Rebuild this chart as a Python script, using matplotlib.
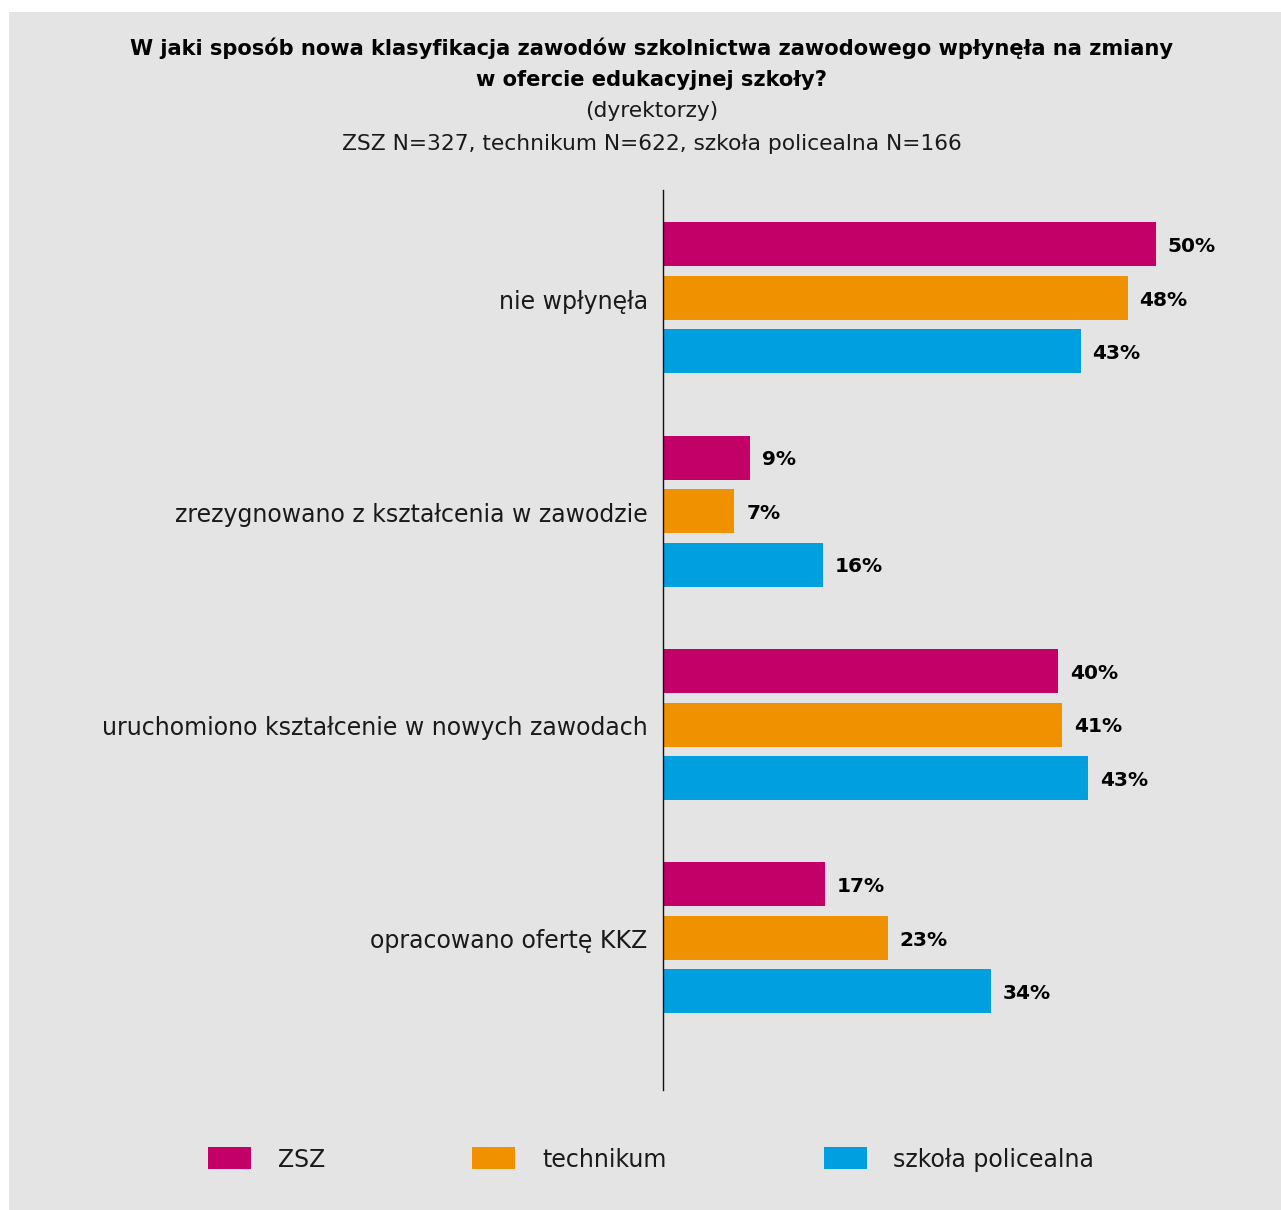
import matplotlib.pyplot as plt
from matplotlib.patches import Rectangle

W, H = 1281, 1210

CATEGORIES = ['nie wpłynęła',
              'zrezygnowano z kształcenia w zawodzie',
              'uruchomiono kształcenie w nowych zawodach',
              'opracowano ofertę KKZ']

SERIES = ['ZSZ', 'technikum', 'szkoła policealna']

# bar lengths, labels as printed
VALUES = {
    'ZSZ':               [50.4, 8.9, 40.4, 16.6],
    'technikum':         [47.5, 7.3, 40.8, 23.0],
    'szkoła policealna': [42.7, 16.4, 43.5, 33.5],
}
LABELS = {
    'ZSZ':               ['50%', '9%', '40%', '17%'],
    'technikum':         ['48%', '7%', '41%', '23%'],
    'szkoła policealna': ['43%', '16%', '43%', '34%'],
}

COLORS = {
    'ZSZ':               '#c20067',
    'technikum':         '#f09200',
    'szkoła policealna': '#009fe0',
}

BG = '#e3e4e3'
FONT = 'DejaVu Sans'


def fx(px):
    return px / W


def fy(py):
    return 1 - py / H


fig = plt.figure(figsize=(W / 100, H / 100), dpi=100)
fig.patch.set_facecolor('white')
fig.add_artist(Rectangle((fx(9), 0), 1 - fx(9), fy(12), transform=fig.transFigure,
                         facecolor=BG, edgecolor='none', zorder=0))

# axes: left edge at x=663, from y=190 to y=1090, 9.78 px per percent
left, right = 663, 663 + 60 * 9.78
ax = fig.add_axes([fx(left), fy(1090), fx(right - left), (1090 - 190) / H])
ax.set_facecolor('none')
ax.set_xlim(0, 60)
ax.set_ylim(3.713, -0.506)

bar_h = 44 / 213.3
offs = [-53.5 / 213.3, 0, 53.5 / 213.3]
for i, s in enumerate(SERIES):
    ys = [k + offs[i] for k in range(len(CATEGORIES))]
    ax.barh(ys, VALUES[s], height=bar_h, color=COLORS[s], zorder=2)
    for y, v, lab in zip(ys, VALUES[s], LABELS[s]):
        ax.text(v + 1.2, y + 0.01, lab, ha='left', va='center', fontsize=14.5,
                fontweight='bold', family=FONT, color='#000000')

ax.set_yticks([k + 0.005 for k in range(len(CATEGORIES))])
ax.set_yticklabels(CATEGORIES, fontsize=17, family=FONT, color='#1a1a1a')
ax.tick_params(axis='y', length=0, pad=11)
ax.set_xticks([])
for sp in ['top', 'right', 'bottom']:
    ax.spines[sp].set_visible(False)
ax.spines['left'].set_linewidth(1.0)
ax.spines['left'].set_color('#111111')

# titles
fig.text(fx(652), fy(48), 'W jaki sposób nowa klasyfikacja zawodów szkolnictwa zawodowego wpłynęła na zmiany',
         ha='center', va='center', fontsize=15.1, fontweight='bold', family=FONT, color='#000000')
fig.text(fx(652), fy(80), 'w ofercie edukacyjnej szkoły?',
         ha='center', va='center', fontsize=15.1, fontweight='bold', family=FONT, color='#000000')
fig.text(fx(652), fy(111), '(dyrektorzy)',
         ha='center', va='center', fontsize=15.7, family=FONT, color='#1a1a1a')
fig.text(fx(652), fy(144), 'ZSZ N=327, technikum N=622, szkoła policealna N=166',
         ha='center', va='center', fontsize=15.7, family=FONT, color='#1a1a1a')

# legend
leg_sq = [208, 472, 824]
leg_tx = [278, 542, 893]
for s, x0, xt in zip(SERIES, leg_sq, leg_tx):
    fig.add_artist(Rectangle((fx(x0), fy(1169)), fx(43), 22 / H, transform=fig.transFigure,
                             facecolor=COLORS[s], edgecolor='none'))
    fig.text(fx(xt), fy(1160), s, ha='left', va='center', fontsize=17,
             family=FONT, color='#1a1a1a')

fig.savefig('out.png', dpi=100, facecolor=fig.get_facecolor())
